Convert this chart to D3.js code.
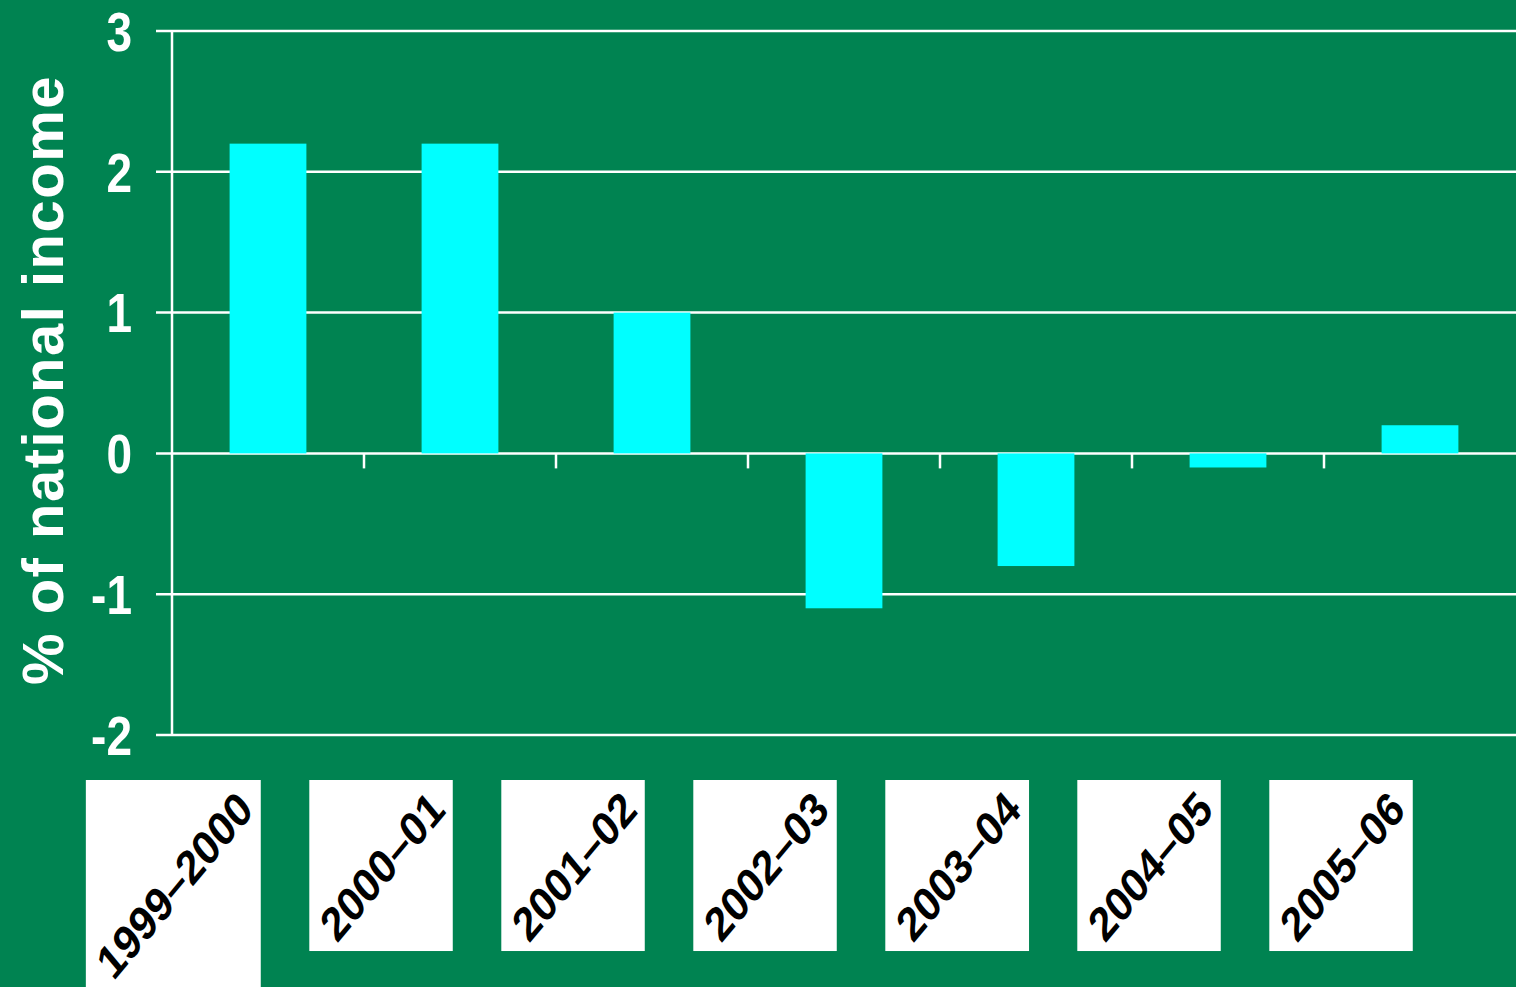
<!DOCTYPE html>
<html>
<head>
<meta charset="utf-8">
<script src="https://cdn.jsdelivr.net/npm/d3@7"></script>
<style>
  html, body { margin: 0; padding: 0; background: #008351; overflow: hidden; }
  svg { display: block; }
</style>
</head>
<body>
<svg id="chart"></svg>
<script>
// Chart data
const years = ["1999\u20132000", "2000\u201301", "2001\u201302", "2002\u201303", "2003\u201304", "2004\u201305", "2005\u201306"];
const values = [2.2, 2.2, 1.0, -1.1, -0.8, -0.1, 0.2];
const yTicks = [3, 2, 1, 0, -1, -2];

const width = 1516;
const height = 987;
const margin = { top: 31, right: 0, bottom: 252, left: 172 };

const svg = d3.select("#chart")
    .attr("width", width)
    .attr("height", height);

svg.append("rect")
    .attr("width", width)
    .attr("height", height)
    .attr("fill", "#008351");

const x = d3.scaleBand()
    .domain(years)
    .range([margin.left, width - margin.right])
    .paddingInner(0.6)
    .paddingOuter(0.3);

// band step is what we need for category ticks
const step = x.step();

const y = d3.scaleLinear()
    .domain([-2, 3])
    .range([height - margin.bottom, margin.top]);

// Gridlines + y ticks
svg.append("g")
    .selectAll("line")
    .data(yTicks)
    .enter().append("line")
    .attr("x1", margin.left - 16)
    .attr("x2", width)
    .attr("y1", d => y(d))
    .attr("y2", d => y(d))
    .attr("stroke", "#fff")
    .attr("stroke-width", 2.5);

// Y axis line
svg.append("line")
    .attr("x1", margin.left)
    .attr("x2", margin.left)
    .attr("y1", y(3))
    .attr("y2", y(-2))
    .attr("stroke", "#fff")
    .attr("stroke-width", 2.5);

// Y tick labels
svg.append("g")
    .selectAll("text")
    .data(yTicks)
    .enter().append("text")
    .attr("transform", d => `translate(132, ${y(d)}) scale(1, 1.2)`)
    .attr("dy", "0.36em")
    .attr("text-anchor", "end")
    .attr("fill", "#fff")
    .attr("font-family", "Liberation Sans, Arial, sans-serif")
    .attr("font-weight", "bold")
    .attr("font-size", 46)
    .text(d => d);

// Y axis title
svg.append("text")
    .attr("transform", `translate(63, 380) rotate(-90)`)
    .attr("text-anchor", "middle")
    .attr("fill", "#fff")
    .attr("font-family", "Liberation Sans, Arial, sans-serif")
    .attr("font-weight", "bold")
    .attr("font-size", 58)
    .attr("letter-spacing", 1.5)
    .text("% of national income");

// Bars
svg.append("g")
    .selectAll("rect")
    .data(values)
    .enter().append("rect")
    .attr("x", (d, i) => x(years[i]))
    .attr("width", x.bandwidth())
    .attr("y", d => y(Math.max(0, d)))
    .attr("height", d => Math.abs(y(d) - y(0)))
    .attr("fill", "#00ffff");

// Category tick marks below the zero line
svg.append("g")
    .selectAll("line")
    .data(years.slice(1))
    .enter().append("line")
    .attr("x1", (d, i) => margin.left + step * (i + 1))
    .attr("x2", (d, i) => margin.left + step * (i + 1))
    .attr("y1", y(0))
    .attr("y2", y(0) + 15)
    .attr("stroke", "#fff")
    .attr("stroke-width", 2.5);

// X labels: white boxes with rotated black text
const labels = svg.append("g");
years.forEach((yr, i) => {
    const cx = x(yr) + x.bandwidth() / 2;
    const g = labels.append("g");
    const box = g.append("rect").attr("fill", "#fff");
    const t = g.append("text")
        .attr("transform", `translate(${cx - 13}, 812) scale(1, 1.2) rotate(-45)`)
        .attr("text-anchor", "end")
        .attr("fill", "#000")
        .attr("font-family", "Liberation Sans, Arial, sans-serif")
        .attr("font-weight", "bold")
        .attr("font-size", 40)
        .text(yr);
    const bb = t.node().getBoundingClientRect();
    box.attr("x", bb.left - 2)
        .attr("y", 780)
        .attr("width", bb.width + 2)
        .attr("height", bb.bottom - 780);
});
</script>
</body>
</html>
